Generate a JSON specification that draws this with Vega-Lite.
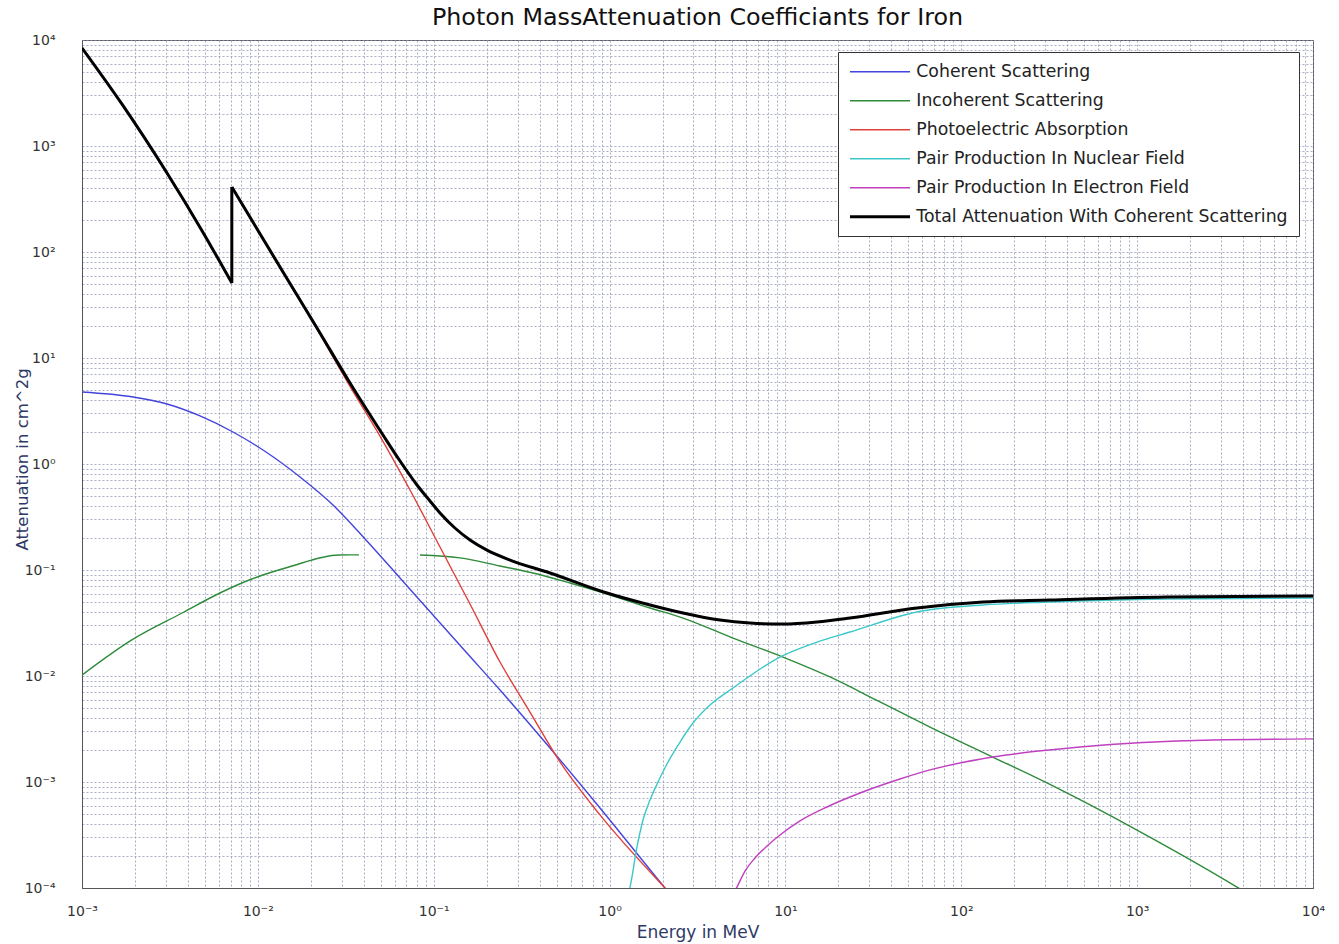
{
  "$schema": "https://vega.github.io/schema/vega-lite/v6.json",
  "autosize": {"type": "none"},
  "width": 1231,
  "height": 848,
  "padding": {"left": 82, "top": 40, "right": 26, "bottom": 56},
  "background": "white",
  "title": {"text": "Photon MassAttenuation Coefficiants for Iron", "fontSize": 23.8, "font": "DejaVu Sans", "fontWeight": "normal", "color": "#111111", "offset": 3, "anchor": "middle"},
  "config": {
    "view": {"stroke": "#555555", "strokeWidth": 1},
    "axis": {
      "gridColor": "#8c94b4", "gridDash": [2, 2], "gridOpacity": 0.75, "gridWidth": 1,
      "domainColor": "#555555", "ticks": false,
      "labelFont": "DejaVu Sans", "labelFontSize": 14, "labelColor": "#333333",
      "titleFont": "DejaVu Sans", "titleFontWeight": "normal", "titleColor": "#2e3a66",
      "labelFlush": false, "labelOverlap": false
    }
  },
  "data": {"values": [
    {"s": "Coherent Scattering", "E": 0.001, "mu": 4.777},
    {"s": "Coherent Scattering", "E": 0.00195, "mu": 4.285},
    {"s": "Coherent Scattering", "E": 0.003043, "mu": 3.68},
    {"s": "Coherent Scattering", "E": 0.004688, "mu": 2.84},
    {"s": "Coherent Scattering", "E": 0.00722, "mu": 2.004},
    {"s": "Coherent Scattering", "E": 0.01113, "mu": 1.298},
    {"s": "Coherent Scattering", "E": 0.01737, "mu": 0.754},
    {"s": "Coherent Scattering", "E": 0.02675, "mu": 0.41},
    {"s": "Coherent Scattering", "E": 0.0412, "mu": 0.192},
    {"s": "Coherent Scattering", "E": 0.06432, "mu": 0.0841},
    {"s": "Coherent Scattering", "E": 0.09906, "mu": 0.0376},
    {"s": "Coherent Scattering", "E": 0.1526, "mu": 0.01683},
    {"s": "Coherent Scattering", "E": 0.2382, "mu": 0.00738},
    {"s": "Coherent Scattering", "E": 0.4584, "mu": 0.002094},
    {"s": "Coherent Scattering", "E": 0.8821, "mu": 0.000569},
    {"s": "Coherent Scattering", "E": 2.066, "mu": 0.0001},
    {"s": "Coherent Scattering", "E": 3.27, "mu": 0.00004},

    {"s": "Incoherent Scattering", "part": "a", "E": 0.001, "mu": 0.0102},
    {"s": "Incoherent Scattering", "part": "a", "E": 0.00192, "mu": 0.0219},
    {"s": "Incoherent Scattering", "part": "a", "E": 0.00371, "mu": 0.0393},
    {"s": "Incoherent Scattering", "part": "a", "E": 0.00625, "mu": 0.062},
    {"s": "Incoherent Scattering", "part": "a", "E": 0.00892, "mu": 0.0805},
    {"s": "Incoherent Scattering", "part": "a", "E": 0.015, "mu": 0.1067},
    {"s": "Incoherent Scattering", "part": "a", "E": 0.0289, "mu": 0.1386},
    {"s": "Incoherent Scattering", "part": "a", "E": 0.0376, "mu": 0.139},
    {"s": "Incoherent Scattering", "part": "b", "E": 0.08356, "mu": 0.1386},
    {"s": "Incoherent Scattering", "part": "b", "E": 0.141, "mu": 0.13},
    {"s": "Incoherent Scattering", "part": "b", "E": 0.2382, "mu": 0.1091},
    {"s": "Incoherent Scattering", "part": "b", "E": 0.3668, "mu": 0.0937},
    {"s": "Incoherent Scattering", "part": "b", "E": 0.5955, "mu": 0.0754},
    {"s": "Incoherent Scattering", "part": "b", "E": 0.9667, "mu": 0.0594},
    {"s": "Incoherent Scattering", "part": "b", "E": 1.698, "mu": 0.0438},
    {"s": "Incoherent Scattering", "part": "b", "E": 2.616, "mu": 0.0352},
    {"s": "Incoherent Scattering", "part": "b", "E": 5.032, "mu": 0.0228},
    {"s": "Incoherent Scattering", "part": "b", "E": 9.686, "mu": 0.0151},
    {"s": "Incoherent Scattering", "part": "b", "E": 17.92, "mu": 0.0098},
    {"s": "Incoherent Scattering", "part": "b", "E": 34.49, "mu": 0.00569},
    {"s": "Incoherent Scattering", "part": "b", "E": 66.4, "mu": 0.0033},
    {"s": "Incoherent Scattering", "part": "b", "E": 151, "mu": 0.00172},
    {"s": "Incoherent Scattering", "part": "b", "E": 307, "mu": 0.000979},
    {"s": "Incoherent Scattering", "part": "b", "E": 998, "mu": 0.000352},
    {"s": "Incoherent Scattering", "part": "b", "E": 3700, "mu": 0.000102},
    {"s": "Incoherent Scattering", "part": "b", "E": 4383, "mu": 0.000086},

    {"s": "Photoelectric Absorption", "part": "a", "E": 0.001, "mu": 8380},
    {"s": "Photoelectric Absorption", "part": "a", "E": 0.001689, "mu": 2470},
    {"s": "Photoelectric Absorption", "part": "a", "E": 0.003043, "mu": 553},
    {"s": "Photoelectric Absorption", "part": "a", "E": 0.004813, "mu": 158},
    {"s": "Photoelectric Absorption", "part": "a", "E": 0.00711, "mu": 50.6},
    {"s": "Photoelectric Absorption", "part": "edge", "E": 0.00711, "mu": 50.6},
    {"s": "Photoelectric Absorption", "part": "edge", "E": 0.007112, "mu": 406},
    {"s": "Photoelectric Absorption", "part": "b", "E": 0.007112, "mu": 406},
    {"s": "Photoelectric Absorption", "part": "b", "E": 0.0139, "mu": 63.5},
    {"s": "Photoelectric Absorption", "part": "b", "E": 0.02169, "mu": 18.7},
    {"s": "Photoelectric Absorption", "part": "b", "E": 0.03341, "mu": 5.4},
    {"s": "Photoelectric Absorption", "part": "b", "E": 0.04948, "mu": 1.836},
    {"s": "Photoelectric Absorption", "part": "b", "E": 0.07331, "mu": 0.569},
    {"s": "Photoelectric Absorption", "part": "b", "E": 0.10857, "mu": 0.1648},
    {"s": "Photoelectric Absorption", "part": "b", "E": 0.1608, "mu": 0.0478},
    {"s": "Photoelectric Absorption", "part": "b", "E": 0.2382, "mu": 0.01355},
    {"s": "Photoelectric Absorption", "part": "b", "E": 0.3527, "mu": 0.00457},
    {"s": "Photoelectric Absorption", "part": "b", "E": 0.5226, "mu": 0.001545},
    {"s": "Photoelectric Absorption", "part": "b", "E": 0.8821, "mu": 0.000489},
    {"s": "Photoelectric Absorption", "part": "b", "E": 2.066, "mu": 0.0001},
    {"s": "Photoelectric Absorption", "part": "b", "E": 3.27, "mu": 0.000045},

    {"s": "Pair Production In Nuclear Field", "E": 1.273, "mu": 0.000086},
    {"s": "Pair Production In Nuclear Field", "E": 1.307, "mu": 0.000102},
    {"s": "Pair Production In Nuclear Field", "E": 1.432, "mu": 0.000244},
    {"s": "Pair Production In Nuclear Field", "E": 1.549, "mu": 0.000438},
    {"s": "Pair Production In Nuclear Field", "E": 1.698, "mu": 0.000676},
    {"s": "Pair Production In Nuclear Field", "E": 1.886, "mu": 0.001},
    {"s": "Pair Production In Nuclear Field", "E": 2.121, "mu": 0.001479},
    {"s": "Pair Production In Nuclear Field", "E": 2.515, "mu": 0.00238},
    {"s": "Pair Production In Nuclear Field", "E": 2.981, "mu": 0.0036},
    {"s": "Pair Production In Nuclear Field", "E": 3.724, "mu": 0.00532},
    {"s": "Pair Production In Nuclear Field", "E": 5.032, "mu": 0.00771},
    {"s": "Pair Production In Nuclear Field", "E": 9.312, "mu": 0.0151},
    {"s": "Pair Production In Nuclear Field", "E": 15.12, "mu": 0.0209},
    {"s": "Pair Production In Nuclear Field", "E": 23.29, "mu": 0.026},
    {"s": "Pair Production In Nuclear Field", "E": 55.99, "mu": 0.0402},
    {"s": "Pair Production In Nuclear Field", "E": 132.9, "mu": 0.0468},
    {"s": "Pair Production In Nuclear Field", "E": 319.4, "mu": 0.0499},
    {"s": "Pair Production In Nuclear Field", "E": 1478, "mu": 0.0532},
    {"s": "Pair Production In Nuclear Field", "E": 10000, "mu": 0.0544},

    {"s": "Pair Production In Electron Field", "E": 5.032, "mu": 0.000086},
    {"s": "Pair Production In Electron Field", "E": 5.303, "mu": 0.000102},
    {"s": "Pair Production In Electron Field", "E": 5.889, "mu": 0.0001445},
    {"s": "Pair Production In Electron Field", "E": 6.714, "mu": 0.000192},
    {"s": "Pair Production In Electron Field", "E": 7.857, "mu": 0.000249},
    {"s": "Pair Production In Electron Field", "E": 9.312, "mu": 0.000316},
    {"s": "Pair Production In Electron Field", "E": 12.1, "mu": 0.000429},
    {"s": "Pair Production In Electron Field", "E": 17.23, "mu": 0.000581},
    {"s": "Pair Production In Electron Field", "E": 26.55, "mu": 0.000787},
    {"s": "Pair Production In Electron Field", "E": 44.8, "mu": 0.001067},
    {"s": "Pair Production In Electron Field", "E": 66.4, "mu": 0.0013},
    {"s": "Pair Production In Electron Field", "E": 151, "mu": 0.00172},
    {"s": "Pair Production In Electron Field", "E": 473, "mu": 0.00214},
    {"s": "Pair Production In Electron Field", "E": 2700, "mu": 0.00249},
    {"s": "Pair Production In Electron Field", "E": 10000, "mu": 0.00255},

    {"s": "Total Attenuation With Coherent Scattering", "part": "a", "E": 0.001, "mu": 8410},
    {"s": "Total Attenuation With Coherent Scattering", "part": "a", "E": 0.001689, "mu": 2479},
    {"s": "Total Attenuation With Coherent Scattering", "part": "a", "E": 0.003043, "mu": 556},
    {"s": "Total Attenuation With Coherent Scattering", "part": "a", "E": 0.004813, "mu": 159},
    {"s": "Total Attenuation With Coherent Scattering", "part": "a", "E": 0.00711, "mu": 51.1},
    {"s": "Total Attenuation With Coherent Scattering", "part": "edge", "E": 0.00711, "mu": 51.1},
    {"s": "Total Attenuation With Coherent Scattering", "part": "edge", "E": 0.007112, "mu": 410},
    {"s": "Total Attenuation With Coherent Scattering", "part": "b", "E": 0.007112, "mu": 410},
    {"s": "Total Attenuation With Coherent Scattering", "part": "b", "E": 0.0139, "mu": 64.8},
    {"s": "Total Attenuation With Coherent Scattering", "part": "b", "E": 0.02169, "mu": 19.2},
    {"s": "Total Attenuation With Coherent Scattering", "part": "b", "E": 0.03341, "mu": 5.81},
    {"s": "Total Attenuation With Coherent Scattering", "part": "b", "E": 0.05147, "mu": 1.878},
    {"s": "Total Attenuation With Coherent Scattering", "part": "b", "E": 0.06432, "mu": 1.067},
    {"s": "Total Attenuation With Coherent Scattering", "part": "b", "E": 0.08034, "mu": 0.634},
    {"s": "Total Attenuation With Coherent Scattering", "part": "b", "E": 0.0952, "mu": 0.448},
    {"s": "Total Attenuation With Coherent Scattering", "part": "b", "E": 0.10857, "mu": 0.345},
    {"s": "Total Attenuation With Coherent Scattering", "part": "b", "E": 0.132, "mu": 0.249},
    {"s": "Total Attenuation With Coherent Scattering", "part": "b", "E": 0.1608, "mu": 0.192},
    {"s": "Total Attenuation With Coherent Scattering", "part": "b", "E": 0.2009, "mu": 0.154},
    {"s": "Total Attenuation With Coherent Scattering", "part": "b", "E": 0.2716, "mu": 0.1242},
    {"s": "Total Attenuation With Coherent Scattering", "part": "b", "E": 0.4584, "mu": 0.0937},
    {"s": "Total Attenuation With Coherent Scattering", "part": "b", "E": 0.9667, "mu": 0.0607},
    {"s": "Total Attenuation With Coherent Scattering", "part": "b", "E": 1.698, "mu": 0.0468},
    {"s": "Total Attenuation With Coherent Scattering", "part": "b", "E": 2.616, "mu": 0.0393},
    {"s": "Total Attenuation With Coherent Scattering", "part": "b", "E": 4.245, "mu": 0.0337},
    {"s": "Total Attenuation With Coherent Scattering", "part": "b", "E": 6.286, "mu": 0.0316},
    {"s": "Total Attenuation With Coherent Scattering", "part": "b", "E": 9.686, "mu": 0.0309},
    {"s": "Total Attenuation With Coherent Scattering", "part": "b", "E": 15.12, "mu": 0.0323},
    {"s": "Total Attenuation With Coherent Scattering", "part": "b", "E": 23.29, "mu": 0.0352},
    {"s": "Total Attenuation With Coherent Scattering", "part": "b", "E": 55.99, "mu": 0.0438},
    {"s": "Total Attenuation With Coherent Scattering", "part": "b", "E": 132.9, "mu": 0.0499},
    {"s": "Total Attenuation With Coherent Scattering", "part": "b", "E": 319.4, "mu": 0.0521},
    {"s": "Total Attenuation With Coherent Scattering", "part": "b", "E": 1478, "mu": 0.0556},
    {"s": "Total Attenuation With Coherent Scattering", "part": "b", "E": 10000, "mu": 0.0569}
  ]},
  "encoding": {
    "x": {
      "field": "E", "type": "quantitative",
      "scale": {"type": "log", "domain": [0.001, 10000], "nice": false},
      "axis": {
        "title": "Energy in MeV",
        "titleFontSize": 17,
        "grid": true,
        "values": [0.001,0.002,0.003,0.004,0.005,0.006,0.007,0.008,0.009,0.01,0.02,0.03,0.04,0.05,0.06,0.07,0.08,0.09,0.1,0.2,0.3,0.4,0.5,0.6,0.7,0.8,0.9,1,2,3,4,5,6,7,8,9,10,20,30,40,50,60,70,80,90,100,200,300,400,500,600,700,800,900,1000,2000,3000,4000,5000,6000,7000,8000,9000,10000],
        "labelExpr": "abs(log(datum.value)/LN10 - round(log(datum.value)/LN10)) < 0.000001 ? '10' + ['⁻⁴','⁻³','⁻²','⁻¹','⁰','¹','²','³','⁴'][round(log(datum.value)/LN10)+4] : ''",
        "labelPadding": 16,
        "titlePadding": 6
      }
    },
    "y": {
      "field": "mu", "type": "quantitative",
      "scale": {"type": "log", "domain": [0.0001, 10000], "nice": false},
      "axis": {
        "title": "Attenuation in cm^2g",
        "titleFontSize": 16.5,
        "grid": true,
        "values": [0.0001,0.0002,0.0003,0.0004,0.0005,0.0006,0.0007,0.0008,0.0009,0.001,0.002,0.003,0.004,0.005,0.006,0.007,0.008,0.009,0.01,0.02,0.03,0.04,0.05,0.06,0.07,0.08,0.09,0.1,0.2,0.3,0.4,0.5,0.6,0.7,0.8,0.9,1,2,3,4,5,6,7,8,9,10,20,30,40,50,60,70,80,90,100,200,300,400,500,600,700,800,900,1000,2000,3000,4000,5000,6000,7000,8000,9000,10000],
        "labelExpr": "abs(log(datum.value)/LN10 - round(log(datum.value)/LN10)) < 0.000001 ? '10' + ['⁻⁴','⁻³','⁻²','⁻¹','⁰','¹','²','³','⁴'][round(log(datum.value)/LN10)+4] : ''",
        "labelPadding": 27,
        "titleX": -60,
        "titleY": 419,
        "titleAngle": 270,
        "titleAlign": "center",
        "titleBaseline": "middle"
      }
    },
    "color": {
      "field": "s", "type": "nominal",
      "scale": {
        "domain": ["Coherent Scattering", "Incoherent Scattering", "Photoelectric Absorption", "Pair Production In Nuclear Field", "Pair Production In Electron Field", "Total Attenuation With Coherent Scattering"],
        "range": ["#4444dd", "#2e8b3a", "#e0403a", "#3cc8c8", "#c040c0", "#000000"]
      },
      "legend": {
        "orient": "none", "legendX": 756, "legendY": 12, "title": null,
        "symbolType": "stroke", "symbolSize": 3600, "symbolStrokeWidth": 1.5,
        "labelFont": "DejaVu Sans", "labelFontSize": 17.3, "labelColor": "#222222", "labelLimit": 600,
        "labelOffset": 50, "rowPadding": 11, "padding": 11,
        "strokeColor": "#333333", "fillColor": "white",
        "encode": {"symbols": {"update": {
          "x": {"value": 31},
          "strokeWidth": {"signal": "datum.value === 'Total Attenuation With Coherent Scattering' ? 3 : 1.5"}
        }}}
      }
    }
  },
  "layer": [
    {
      "transform": [{"filter": "datum.s !== 'Total Attenuation With Coherent Scattering'"}],
      "mark": {"type": "line", "strokeWidth": 1.4, "interpolate": "monotone", "clip": true},
      "encoding": {"detail": {"field": "part", "type": "nominal"}}
    },
    {
      "transform": [{"filter": "datum.s === 'Total Attenuation With Coherent Scattering'"}],
      "mark": {"type": "line", "strokeWidth": 3, "interpolate": "monotone", "clip": true},
      "encoding": {"detail": {"field": "part", "type": "nominal"}}
    }
  ]
}
